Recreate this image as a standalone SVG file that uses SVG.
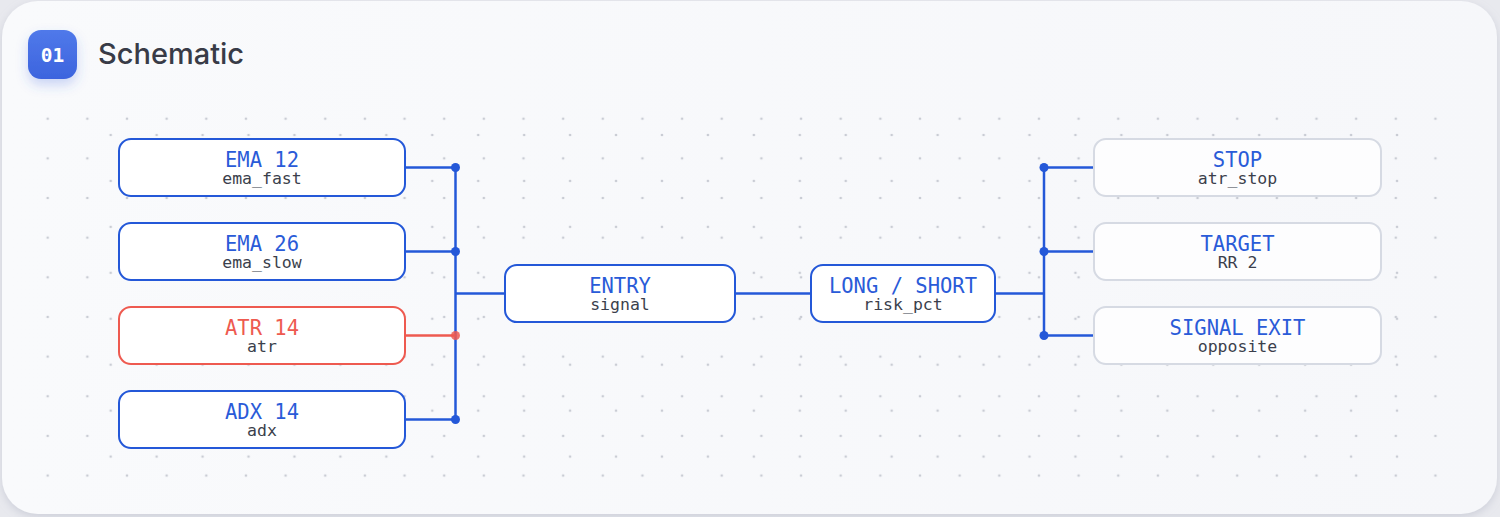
<svg xmlns="http://www.w3.org/2000/svg" width="1500" height="517" viewBox="0 0 1500 517">
  <defs>
    <style>
      .box { fill: #ffffff; stroke: #2458d8; stroke-width: 2; }
      .box-red { fill: #ffffff; stroke: #ee5a50; stroke-width: 2; }
      .box-muted { fill: #fdfdfe; stroke: #d6dae3; stroke-width: 2; }
      .t { font-family: "DejaVu Sans Mono", "Liberation Mono", monospace; font-size: 20.5px; fill: #2a5bd8; text-anchor: middle; }
      .t-red { fill: #ee5a50; }
      .s { font-family: "DejaVu Sans Mono", "Liberation Mono", monospace; font-size: 16.5px; fill: #3b3f4c; text-anchor: middle; }
      .wire { stroke: #2458d8; stroke-width: 2.5; fill: none; }
      .wire-red { stroke: #ee5a50; stroke-width: 2.5; fill: none; }
      .dot { fill: #2458d8; }
      .dot-red { fill: #ee5a50; fill-opacity: 0.85; }
    </style>
    <pattern id="gridA" patternUnits="userSpaceOnUse" x="27.875" y="98.875" width="39.65" height="39.65">
      <circle cx="19.825" cy="19.825" r="1.35" fill="#c9ccd4"/>
    </pattern>
    <pattern id="gridB" patternUnits="userSpaceOnUse" x="87.73" y="112.03" width="45.94" height="45.94">
      <circle cx="22.97" cy="22.97" r="1.35" fill="#c9ccd4"/>
    </pattern>
    <linearGradient id="badgeGrad" x1="0" y1="0" x2="0" y2="1">
      <stop offset="0" stop-color="#5079ea"/>
      <stop offset="1" stop-color="#3c64de"/>
    </linearGradient>
    <linearGradient id="cardGrad" x1="0" y1="0" x2="1" y2="0">
      <stop offset="0" stop-color="#f9fafc"/>
      <stop offset="1" stop-color="#f6f7fa"/>
    </linearGradient>
    <filter id="cardShadow" x="-5%" y="-5%" width="110%" height="115%">
      <feDropShadow dx="0" dy="3" stdDeviation="4" flood-color="#9aa0b4" flood-opacity="0.35"/>
    </filter>
    <filter id="badgeShadow" x="-40%" y="-40%" width="180%" height="200%">
      <feDropShadow dx="0" dy="6" stdDeviation="6" flood-color="#3c64de" flood-opacity="0.25"/>
    </filter>
  </defs>

  <rect x="0" y="0" width="1500" height="517" fill="#e8e9ee"/>
  <rect x="2" y="1" width="1495" height="513" rx="36" fill="url(#cardGrad)" filter="url(#cardShadow)"/>

  <g id="header">
    <rect x="28" y="30" width="49" height="49" rx="13" fill="url(#badgeGrad)" filter="url(#badgeShadow)"/>
    <text x="52.5" y="61.5" font-family="DejaVu Sans Mono, Liberation Mono, monospace" font-size="19.5" font-weight="bold" fill="#ffffff" text-anchor="middle">01</text>
    <text x="98" y="64" font-family="Inter, Lato, sans-serif" font-size="29" font-weight="500" fill="#383b47">Schematic</text>
  </g>

  <g id="grid">
    <rect x="40" y="110" width="1402" height="372" fill="url(#gridA)"/>
    <rect x="100" y="128" width="1302" height="336" fill="url(#gridB)"/>
  </g>

  <g id="connectors">
    <line class="wire" x1="405" y1="167.5" x2="455.5" y2="167.5"/>
    <line class="wire" x1="405" y1="251.5" x2="455.5" y2="251.5"/>
    <line class="wire" x1="405" y1="419.5" x2="455.5" y2="419.5"/>
    <line class="wire" x1="455.5" y1="167.5" x2="455.5" y2="419.5"/>
    <line class="wire-red" x1="405" y1="335.5" x2="455.5" y2="335.5"/>
    <line class="wire" x1="455.5" y1="293.5" x2="505" y2="293.5"/>
    <line class="wire" x1="735" y1="293.5" x2="811" y2="293.5"/>
    <line class="wire" x1="995" y1="293.5" x2="1044" y2="293.5"/>
    <line class="wire" x1="1044" y1="167.5" x2="1044" y2="335.5"/>
    <line class="wire" x1="1044" y1="167.5" x2="1094" y2="167.5"/>
    <line class="wire" x1="1044" y1="251.5" x2="1094" y2="251.5"/>
    <line class="wire" x1="1044" y1="335.5" x2="1094" y2="335.5"/>
    <circle class="dot" cx="455.5" cy="167.5" r="4.5"/>
    <circle class="dot" cx="455.5" cy="251.5" r="4.5"/>
    <circle class="dot-red" cx="455.5" cy="335.5" r="4.5"/>
    <circle class="dot" cx="455.5" cy="419.5" r="4.5"/>
    <circle class="dot" cx="1044" cy="167.5" r="4.5"/>
    <circle class="dot" cx="1044" cy="251.5" r="4.5"/>
    <circle class="dot" cx="1044" cy="335.5" r="4.5"/>
  </g>

  <g id="ema12">
    <rect class="box" x="119" y="139" width="286" height="57" rx="12"/>
    <text class="t" x="262" y="166.5">EMA 12</text>
    <text class="s" x="262" y="184">ema_fast</text>
  </g>
  <g id="ema26">
    <rect class="box" x="119" y="223" width="286" height="57" rx="12"/>
    <text class="t" x="262" y="250.5">EMA 26</text>
    <text class="s" x="262" y="268">ema_slow</text>
  </g>
  <g id="atr14">
    <rect class="box-red" x="119" y="307" width="286" height="57" rx="12"/>
    <text class="t t-red" x="262" y="334.5">ATR 14</text>
    <text class="s" x="262" y="352">atr</text>
  </g>
  <g id="adx14">
    <rect class="box" x="119" y="391" width="286" height="57" rx="12"/>
    <text class="t" x="262" y="418.5">ADX 14</text>
    <text class="s" x="262" y="436">adx</text>
  </g>
  <g id="entry">
    <rect class="box" x="505" y="265" width="230" height="57" rx="12"/>
    <text class="t" x="620" y="292.5">ENTRY</text>
    <text class="s" x="620" y="310">signal</text>
  </g>
  <g id="longshort">
    <rect class="box" x="811" y="265" width="184" height="57" rx="12"/>
    <text class="t" x="903" y="292.5">LONG / SHORT</text>
    <text class="s" x="903" y="310">risk_pct</text>
  </g>
  <g id="stop">
    <rect class="box-muted" x="1094" y="139" width="287" height="57" rx="12"/>
    <text class="t" x="1237.5" y="166.5">STOP</text>
    <text class="s" x="1237.5" y="184">atr_stop</text>
  </g>
  <g id="target">
    <rect class="box-muted" x="1094" y="223" width="287" height="57" rx="12"/>
    <text class="t" x="1237.5" y="250.5">TARGET</text>
    <text class="s" x="1237.5" y="268">RR 2</text>
  </g>
  <g id="signalexit">
    <rect class="box-muted" x="1094" y="307" width="287" height="57" rx="12"/>
    <text class="t" x="1237.5" y="334.5">SIGNAL EXIT</text>
    <text class="s" x="1237.5" y="352">opposite</text>
  </g>
</svg>
